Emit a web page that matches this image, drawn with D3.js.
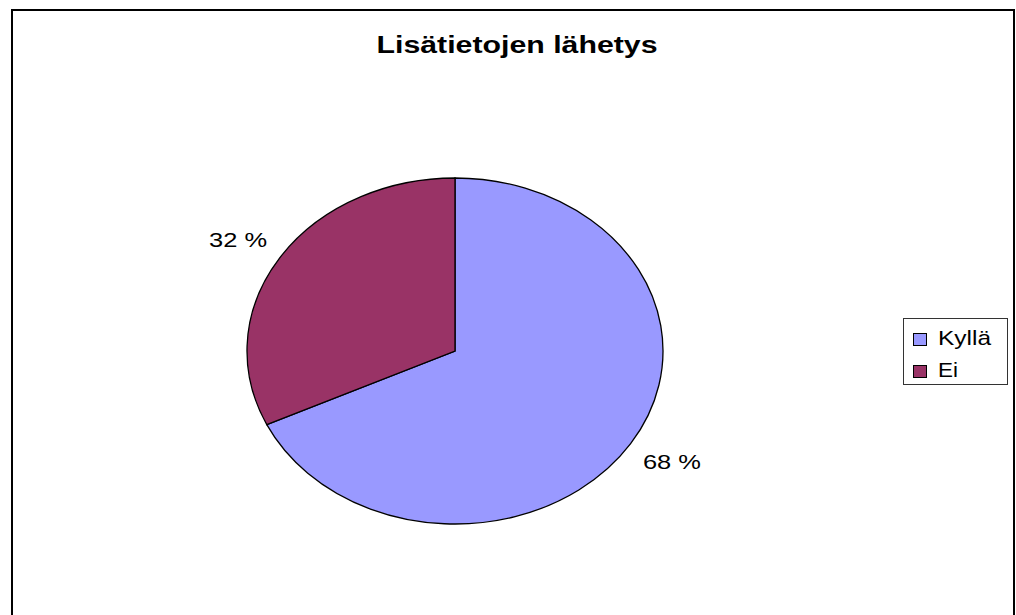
<!DOCTYPE html>
<html>
<head>
<meta charset="utf-8">
<script src="https://cdn.jsdelivr.net/npm/d3@7"></script>
<style>
  html, body { margin: 0; padding: 0; background: #fff; }
  svg { display: block; }
  text { font-family: "Liberation Sans", Arial, sans-serif; fill: #000; }
</style>
</head>
<body>
<svg id="chart" width="1016" height="615"></svg>
<script>
// Data
const title = "Lisätietojen lähetys";
const categories = ["Kyllä", "Ei"];
const values = [68, 32];
const colors = ["#9999FF", "#993366"];

const svg = d3.select("#chart");

// Outer chart frame
svg.append("rect")
  .attr("x", 12).attr("y", 10)
  .attr("width", 1002).attr("height", 640)
  .attr("fill", "#fff")
  .attr("stroke", "#000")
  .attr("stroke-width", 2);

// Title
svg.append("text")
  .attr("x", 517).attr("y", 53)
  .attr("text-anchor", "middle")
  .attr("font-size", 23.5)
  .attr("font-weight", "bold")
  .attr("textLength", 281)
  .attr("lengthAdjust", "spacingAndGlyphs")
  .text(title);

// Pie, drawn on a unit radius and stretched into an ellipse
const cx = 455, cy = 351, rx = 208, ry = 173, R = 100;
const pie = d3.pie().sort(null).value(d => d.value);
const arcs = pie(categories.map((c, i) => ({ name: c, value: values[i], color: colors[i] })));
const arc = d3.arc().innerRadius(0).outerRadius(R);

const g = svg.append("g")
  .attr("transform", `translate(${cx},${cy}) scale(${rx / R},${ry / R})`);

g.selectAll("path")
  .data(arcs)
  .join("path")
  .attr("d", arc)
  .attr("fill", d => d.data.color)
  .attr("stroke", "#000")
  .attr("stroke-width", 1.3)
  .attr("vector-effect", "non-scaling-stroke");

// Percentage labels outside the slices
const labelArc = d3.arc().innerRadius(R).outerRadius(R);
const total = d3.sum(values);
svg.selectAll("text.pct")
  .data(arcs)
  .join("text")
  .attr("class", "pct")
  .attr("x", d => cx + labelArc.centroid(d)[0] * 1.235 * rx / R)
  .attr("y", d => cy + labelArc.centroid(d)[1] * 1.2 * ry / R + 7)
  .attr("text-anchor", "middle")
  .attr("font-size", 20)
  .attr("textLength", 58)
  .attr("lengthAdjust", "spacingAndGlyphs")
  .text(d => Math.round(d.data.value / total * 100) + " %");

// Legend
const legend = svg.append("g");
legend.append("rect")
  .attr("x", 903.5).attr("y", 318.5)
  .attr("width", 104).attr("height", 66)
  .attr("fill", "#fff")
  .attr("stroke", "#333")
  .attr("stroke-width", 1);

const items = legend.selectAll("g.item")
  .data(categories)
  .join("g")
  .attr("class", "item")
  .attr("transform", (d, i) => `translate(0,${i * 32})`);

items.append("rect")
  .attr("x", 913.5).attr("y", 333.5)
  .attr("width", 13).attr("height", 12)
  .attr("fill", (d, i) => colors[i])
  .attr("stroke", "#000")
  .attr("stroke-width", 1);

items.append("text")
  .attr("x", 938).attr("y", 345)
  .attr("font-size", 21)
  .attr("textLength", (d, i) => i === 0 ? 53 : 20)
  .attr("lengthAdjust", "spacingAndGlyphs")
  .text(d => d);
</script>
</body>
</html>
